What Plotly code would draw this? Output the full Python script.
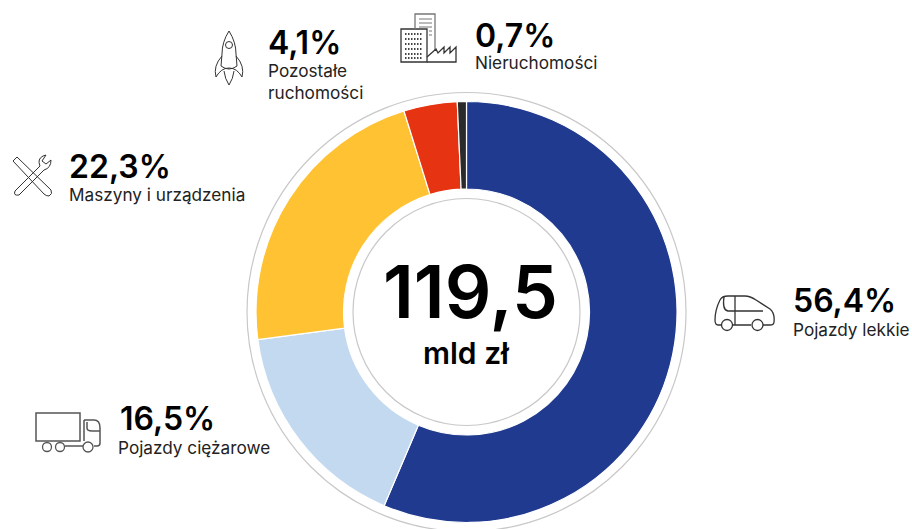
import plotly.graph_objects as go

categories = ["Pojazdy lekkie", "Pojazdy ciężarowe", "Maszyny i urządzenia", "Pozostałe<br>ruchomości", "Nieruchomości"]
values = [56.4, 16.5, 22.3, 4.1, 0.7]
colors = ["#1F3A8F", "#C3D9F0", "#FFC233", "#E63312", "#2B2B2B"]
pct_labels = ["56,4%", "16,5%", "22,3%", "4,1%", "0,7%"]
total_label = "119,5"
unit_label = "mld zł"

W, H = 912, 529
CX, CY, R = 466.5, 312, 210.5
NUM_FONT = "Inter"

pct_pos = [(791, 300), (118, 418), (67, 166), (266, 42), (473, 35)]
name_pos = [(791, 329), (116, 447), (67, 194), (266, 81), (473, 62)]

fig = go.Figure(go.Pie(
    values=values, labels=categories, sort=False, direction="clockwise", rotation=0,
    hole=123 / 210.5, textinfo="none", hoverinfo="label+percent", showlegend=False,
    marker=dict(colors=colors, line=dict(color="white", width=1.2)),
    domain=dict(x=[(CX - R) / W, (CX + R) / W], y=[1 - (CY + R) / H, 1 - (CY - R) / H]),
))

anns = []
for (x, y), t in zip(pct_pos, pct_labels):
    anns.append(dict(x=x, y=y, text=t, xanchor="left", yanchor="middle", showarrow=False,
                     font=dict(family=NUM_FONT, size=32, color="#000", weight=600)))
for (x, y), t in zip(name_pos, categories):
    anns.append(dict(x=x, y=y, text=t, xanchor="left", yanchor="middle", showarrow=False, align="left",
                     font=dict(family="Inter", size=17.2, color="#222")))
anns.append(dict(x=470, y=291, text=total_label, showarrow=False,
                 font=dict(family=NUM_FONT, size=73, color="#000", weight=600)))
anns.append(dict(x=466, y=352.5, text=unit_label, showarrow=False,
                 font=dict(family=NUM_FONT, size=30, color="#000", weight=600)))

DARK = "#333"

def circ(cx, cy, r, color=DARK, w=1.3):
    return dict(type="circle", x0=cx - r, x1=cx + r, y0=cy - r, y1=cy + r, xref="x", yref="y",
                line=dict(color=color, width=w))

def path(d, color=DARK, w=1.3, dash="solid"):
    return dict(type="path", path=d, xref="x", yref="y", line=dict(color=color, width=w, dash=dash))

shapes = [circ(CX, CY, 219.5, "#C8C8C8", 1.2), circ(CX, CY, 113.5, "#C8C8C8", 1.2)]

# van
shapes += [
    path("M721 325 L718 325 Q715 325 715 320 C715 312 717 306 720 300 Q722 296 728 296 L745 296 Q750 296 756 300 L770 309 Q775 313 774 322 Q774 325 770 325 L763 325 M751 325 L733 325"),
    path("M735 296 L735 325 M724 297 Q722 310 728 311 L763 311"),
    circ(727, 325, 5.5), circ(757.5, 325, 5.5),
]
# truck
shapes += [
    path("M36 413 L80 413 L80 441 L36 441 Z", color="#555", w=1.5),
    path("M84 420 L94 420 Q100 420 100 428 L100 443 Q100 446 97 446 L94 446 M83 446 L65 446 M84 420 L84 441 M87 422 L87 428 Q87 431 92 431 L100 431", color="#555", w=1.5),
    circ(47, 447, 4.5, "#555"), circ(60, 447, 4.5, "#555"), circ(88, 447, 5, "#555"),
]
# wrench and screwdriver
shapes += [
    path("M13 161 L17 157 L51 190 Q53 194 49 196 Q46 196 44 194 Z", w=1),
    path("M15 191 L40 166 Q37 159 43 156 L46 155 L42 161 L46 164 L51 160 Q51 168 44 170 L19 195 Q13 196 15 191 Z", w=1),
]
# rocket
shapes += [
    path("M229 31 Q222 42 222 54 L221 66 Q229 72 237 66 L236 54 Q236 42 229 31 Z", w=1),
    path("M222 56 Q213 66 216 77 Q221 68 229 68 Q237 68 242 77 Q245 66 236 56", w=1),
    path("M224 71 Q225 79 229 85 Q233 79 234 71", w=1),
    circ(229, 45, 3.5, w=1),
]
# buildings and factory
shapes += [
    path("M401 29 L427 29 L427 62 L401 62 Z"),
    path("M415 29 L415 14 L435 14 L435 50", color="#777"),
    path("M427 62 L456 62 L456 47 L450 53 L450 47 L444 53 L444 47 L438 53 L436 49 L427 57"),
    path("M405 34 L423 34 M405 39 L423 39 M405 44 L423 44 M405 49 L423 49 M405 54 L423 54 M405 58 L423 58", w=2, color="#444", dash="1.5px,1.5px"),
    path("M419 19 L432 19 M419 23 L432 23 M419 27 L432 27 M429 31 L432 31 M429 35 L432 35", w=1, color="#777"),
]

fig.update_layout(
    width=W, height=H, autosize=False, margin=dict(l=0, r=0, t=0, b=0),
    paper_bgcolor="white", plot_bgcolor="white",
    xaxis=dict(range=[0, W], visible=False, fixedrange=True),
    yaxis=dict(range=[H, 0], visible=False, fixedrange=True),
    annotations=anns, shapes=shapes,
)
fig.write_html("out.html", config=dict(displayModeBar=False),
               post_script="document.body.style.margin='0';document.body.style.overflow='hidden';")
